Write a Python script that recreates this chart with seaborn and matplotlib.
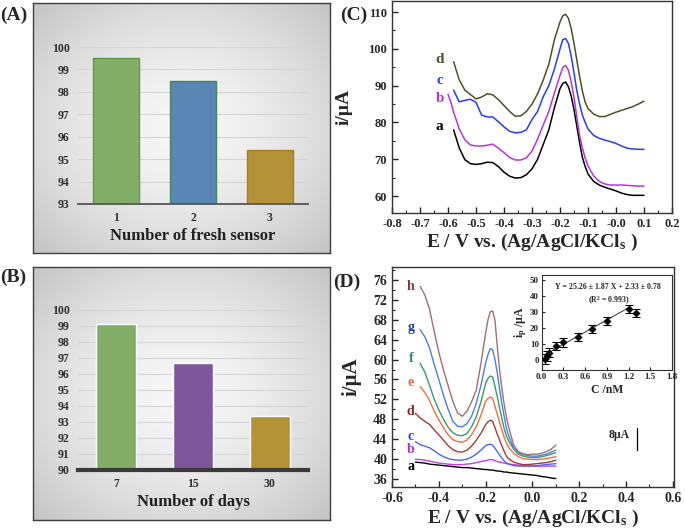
import numpy as np
import pandas as pd
import seaborn as sns
import matplotlib.pyplot as plt
from matplotlib.ticker import MultipleLocator

# ---- panel A : fresh sensors
sensor_labels = ['1', '2', '3']
sensor_values = [99.5, 98.5, 95.4]
sensor_colors = ['#7fba5c', '#4a86c4', '#c79b24']
sensor_edges = ['#5e9a40', '#3f8a58', '#a88012']

# ---- panel B : storage days
day_labels = ['7', '15', '30']
day_values = [99.15, 96.7, 93.4]
day_colors = ['#7fba5c', '#7e4ba6', '#c79b24']

# ---- panel C : DPV curves a-d
E_c = [-0.58, -0.56, -0.54, -0.52, -0.50, -0.48, -0.46, -0.44, -0.42, -0.40,
       -0.38, -0.36, -0.34, -0.32, -0.30, -0.28, -0.26, -0.24, -0.22, -0.20,
       -0.19, -0.18, -0.17, -0.16, -0.15, -0.14, -0.13, -0.12, -0.11, -0.10,
       -0.08, -0.06, -0.04, -0.02, 0.00, 0.02, 0.04, 0.06, 0.08, 0.10]
E_c_b = [-0.60, -0.59] + E_c
i_c_a = [78.0, 73.1, 69.9, 68.8, 68.6, 68.8, 69.2, 69.1, 68.0, 66.5,
         65.4, 64.9, 65.0, 65.8, 67.4, 70.0, 74.0, 78.0, 84.0, 89.2,
         90.6, 91.0, 89.7, 87.2, 83.5, 79.0, 74.5, 70.5, 68.0, 66.0,
         64.0, 63.0, 62.4, 61.9, 61.4, 60.8, 60.4, 60.2, 60.2, 60.2]
i_c_b = [87.7, 85.5,
         82.8, 78.3, 75.3, 73.9, 73.6, 73.6, 73.8, 74.1, 73.0, 71.8,
         70.5, 69.8, 69.8, 70.4, 72.2, 75.5, 79.3, 83.0, 88.0, 92.8,
         94.9, 95.5, 94.2, 91.0, 86.8, 81.5, 76.5, 73.0, 70.3, 68.2,
         65.5, 64.0, 63.3, 63.0, 63.0, 63.0, 62.9, 62.8, 62.7, 62.7]
i_c_c = [88.8, 85.6, 86.0, 86.3, 85.5, 82.0, 81.5, 81.5, 80.2, 78.8,
         77.6, 77.2, 77.3, 78.0, 80.8, 83.0, 87.0, 90.0, 94.5, 100.0,
         102.5, 102.8, 101.5, 98.0, 93.5, 88.7, 85.0, 82.0, 80.0, 78.2,
         76.5, 75.7, 75.2, 74.8, 74.3, 73.6, 73.0, 72.8, 72.7, 72.7]
i_c_d = [96.5, 91.6, 88.8, 87.6, 86.4, 86.9, 87.8, 87.5, 86.2, 84.6,
         83.0, 81.7, 81.8, 83.0, 85.0, 87.8, 91.5, 95.8, 102.5, 107.3,
         109.0, 109.4, 108.3, 105.5, 101.5, 97.0, 92.5, 88.5, 85.5, 83.8,
         82.3, 81.6, 81.6, 82.2, 82.8, 83.3, 83.8, 84.3, 85.0, 85.8]

# ---- panel D : DPV curves a-h
E_d = [-0.50, -0.48, -0.46, -0.44, -0.42, -0.40, -0.38, -0.36, -0.34, -0.32,
       -0.30, -0.28, -0.26, -0.24, -0.22, -0.20, -0.19, -0.18, -0.17, -0.16,
       -0.15, -0.14, -0.13, -0.12, -0.11, -0.10, -0.08, -0.06, -0.04, -0.02,
       0.00, 0.02, 0.04, 0.06, 0.08, 0.10]
E_d_short = E_d[1:]
i_d_a = [39.4, 39.3, 39.2, 39.0, 38.9, 38.8, 38.7, 38.6, 38.5, 38.4,
         38.3, 38.3, 38.2, 38.1, 38.0, 37.9, 37.9, 37.8, 37.8, 37.7,
         37.6, 37.6, 37.5, 37.4, 37.4, 37.3, 37.2, 37.1, 37.0, 36.9,
         36.8, 36.7, 36.5, 36.4, 36.2, 36.1]
i_d_b = [40.0, 39.9, 39.8, 39.6, 39.4, 39.2, 39.1, 39.0, 38.9, 38.9,
         38.9, 39.0, 39.1, 39.3, 39.5, 39.7, 39.8, 39.9, 39.9, 39.7,
         39.5, 39.4, 39.3, 39.2, 39.1, 39.0, 38.9, 38.8, 38.7, 38.6,
         38.6, 38.6, 38.6, 38.6, 38.6, 38.6]
i_d_c = [43.5, 42.9, 42.6, 42.3, 41.7, 41.0, 40.5, 40.1, 39.9, 39.8,
         39.8, 40.0, 40.4, 41.0, 41.8, 42.7, 42.9, 43.0, 42.8, 42.2,
         41.5, 40.8, 40.2, 39.6, 39.2, 39.0, 38.7, 38.6, 38.6, 38.6,
         38.6, 38.7, 38.8, 38.9, 39.0, 39.1]
i_d_d = [49.2, 48.3, 47.6, 47.0, 45.9, 44.9, 43.8, 42.7, 41.9, 41.5,
         41.4, 41.8, 42.6, 43.8, 45.2, 46.9, 47.5, 47.8, 47.6, 46.3,
         45.0, 43.8, 42.6, 41.5, 40.5, 40.0, 39.4, 39.1, 38.9, 38.9,
         39.0, 39.1, 39.2, 39.3, 39.5, 39.8]
i_d_e = [54.6, 53.4, 51.8, 49.7, 47.9, 46.3, 44.9, 43.9, 43.5,
         43.4, 43.8, 44.9, 46.5, 48.8, 51.6, 52.2, 52.5, 52.2, 50.6,
         49.0, 47.3, 45.8, 44.3, 43.1, 42.3, 41.2, 40.5, 40.1, 40.0,
         39.9, 39.9, 40.0, 40.1, 40.3, 40.5]
i_d_f = [59.3, 57.5, 54.9, 52.1, 49.9, 48.0, 46.4, 45.3, 44.8,
         44.7, 45.1, 46.5, 48.5, 51.5, 55.2, 56.2, 56.7, 56.5, 54.6,
         52.5, 50.2, 48.0, 46.0, 44.5, 43.5, 42.0, 41.0, 40.6, 40.4,
         40.3, 40.3, 40.5, 40.7, 41.0, 41.3]
i_d_g = [66.0, 64.6, 62.4, 59.1, 56.0, 52.8, 50.0, 47.6, 46.6,
         46.5, 47.1, 48.6, 51.2, 54.8, 59.3, 61.0, 62.2, 62.0, 60.0,
         57.3, 54.0, 51.0, 48.4, 46.0, 44.5, 42.2, 41.3, 40.9, 40.7,
         40.6, 40.6, 40.8, 41.0, 41.4, 41.8]
i_d_h = [74.7, 73.0, 70.2, 65.7, 61.5, 57.9, 54.7, 51.6, 49.3,
         48.6, 49.6, 51.5, 53.9, 59.2, 65.3, 68.0, 69.6, 69.8, 67.9,
         62.6, 57.8, 54.0, 50.8, 48.2, 46.2, 42.8, 41.5, 41.1, 40.9,
         41.0, 41.0, 41.2, 41.5, 42.0, 42.8]

# ---- inset : calibration
conc = [0.05, 0.07, 0.1, 0.2, 0.3, 0.5, 0.7, 0.9, 1.2, 1.3]
ip = [0.6, 2.7, 4.6, 9.0, 11.0, 14.6, 19.4, 24.4, 31.7, 29.6]
ip_err = [3.0, 3.0, 2.8, 2.5, 2.5, 2.5, 2.5, 2.5, 2.5, 2.5]
fit_slope = 25.26
fit_icpt = 2.33

sns.set_style('ticks')
plt.rcParams['font.family'] = ['Liberation Serif', 'DejaVu Serif']
plt.rcParams['font.weight'] = 'bold'
plt.rcParams['axes.labelweight'] = 'bold'
plt.rcParams['axes.unicode_minus'] = False
plt.rcParams['mathtext.fontset'] = 'custom'
plt.rcParams['mathtext.rm'] = 'Liberation Serif:bold'
plt.rcParams['mathtext.it'] = 'Liberation Serif:bold'
plt.rcParams['mathtext.bf'] = 'Liberation Serif:bold'

W, H = 685, 529
fig = plt.figure(figsize=(6.85, 5.29), dpi=100)


def px_rect(l, t, r, b):
    return [l / W, 1 - b / H, (r - l) / W, (b - t) / H]


def gray_box(l, t, r, b):
    bg = fig.add_axes(px_rect(l, t, r, b), zorder=0)
    yy, xx = np.mgrid[-1:1:200j, -1:1:200j]
    rr = np.sqrt(xx ** 2 + yy ** 2) / np.sqrt(2)
    bg.imshow(0.965 - 0.2 * rr ** 1.6, cmap='gray', vmin=0, vmax=1,
              aspect='auto', extent=[0, 1, 0, 1])
    bg.set_xticks([])
    bg.set_yticks([])
    for s in bg.spines.values():
        s.set_color('#404040')
        s.set_linewidth(1)


def bar_panel(rect, labels, values, colors, ylo, xlabel, axis_lw, axis_col, width):
    ax = fig.add_axes(rect, zorder=1)
    ax.set_facecolor('none')
    sns.barplot(x=labels, y=values, hue=labels, palette=colors, legend=False,
                width=width, ax=ax, zorder=2)
    ax.set_ylim(ylo, 100)
    ax.set_xlim(-0.5, 2.5)
    ax.set_yticks(range(ylo, 101))
    ax.yaxis.grid(True, color='#d6d6d6', lw=0.8)
    ax.set_axisbelow(True)
    for s in ['top', 'right', 'left']:
        ax.spines[s].set_visible(False)
    ax.spines['bottom'].set_color(axis_col)
    ax.spines['bottom'].set_linewidth(axis_lw)
    ax.spines['bottom'].set_zorder(3)
    ax.tick_params(length=0, labelsize=8.5, pad=6, colors='#303030')
    ax.set_xlabel(xlabel, fontsize=12, color='#202020', labelpad=3)
    ax.set_ylabel('')
    return ax


# A
gray_box(33, 3, 330, 253)
axA = bar_panel(px_rect(78, 47, 308, 204), sensor_labels, sensor_values,
                sensor_colors, 93, 'Number of fresh sensor', 1.3, '#555555', 0.6)
for p, ec in zip(axA.patches, sensor_edges):
    p.set_edgecolor(ec)
    p.set_linewidth(1)

# B
gray_box(33, 267, 330, 520)
axB = bar_panel(px_rect(78, 310, 308, 470), day_labels, day_values,
                day_colors, 90, 'Number of days', 3.0, '#3a3a3a', 0.52)

fig.text(0.0, 1 - 15 / H, '(A)', fontsize=14, va='center', ha='left')
fig.text(0.0, 1 - 277 / H, '(B)', fontsize=14, va='center', ha='left')
fig.text(340 / W, 1 - 15 / H, '(C)', fontsize=14, va='center', ha='left')
fig.text(333 / W, 1 - 282 / H, '(D)', fontsize=14, va='center', ha='left')

# C
axC = fig.add_axes(px_rect(392, 1, 672, 213))
c_curves = [(E_c, i_c_a, 'black', 'a'), (E_c_b, i_c_b, '#b535e0', 'b'),
            (E_c, i_c_c, '#2a3cf2', 'c'), (E_c, i_c_d, '#4f4f2a', 'd')]
c_lab_y = [78.8, 86.6, 91.5, 97.0]
for (xs, ys, col, lab), ly in zip(c_curves, c_lab_y):
    sns.lineplot(x=xs, y=ys, color=col, lw=1.1, ax=axC)
    axC.text(-0.63, ly, lab, color=col, fontsize=11, ha='center', va='center')
axC.set_xlim(-0.8, 0.2)
axC.set_ylim(55.4, 113)
axC.xaxis.set_minor_locator(MultipleLocator(0.05))
axC.yaxis.set_minor_locator(MultipleLocator(5))
axC.set_xticks(np.round(np.arange(-0.8, 0.21, 0.1), 1))
axC.set_xticklabels(['%.1f' % v for v in np.arange(-0.8, 0.21, 0.1)])
axC.set_yticks([60, 70, 80, 90, 100, 110])
axC.tick_params(which='major', direction='in', length=4, width=1, labelsize=9)
axC.tick_params(which='minor', direction='in', length=2.5, width=0.8)
axC.set_xlabel('E / V vs. (Ag/AgCl/KCl$_s$ )', fontsize=14)
axC.set_ylabel('i/µA', fontsize=14)
axC.xaxis.set_label_coords(0.5, -0.09)
axC.yaxis.set_label_coords(-0.14, 0.5)
for s in axC.spines.values():
    s.set_linewidth(1)
    s.set_color('#333333')

# D
axD = fig.add_axes(px_rect(392, 267, 674, 487))
d_curves = [(E_d, i_d_a, 'black', 'black', 'a', 38.6),
            (E_d, i_d_b, '#c040e0', '#b030d0', 'b', 41.9),
            (E_d, i_d_c, '#4a66f0', '#2a3af0', 'c', 44.6),
            (E_d, i_d_d, '#a03a3a', '#8b2525', 'd', 49.5),
            (E_d_short, i_d_e, '#f07040', '#f06030', 'e', 55.3),
            (E_d_short, i_d_f, '#3a9a6a', '#2e8b57', 'f', 60.3),
            (E_d_short, i_d_g, '#4a7fe0', '#2040a8', 'g', 66.4),
            (E_d_short, i_d_h, '#a07070', '#7b3f3f', 'h', 74.6)]
for xs, ys, col, tcol, lab, ly in d_curves:
    sns.lineplot(x=xs, y=ys, color=col, lw=1.0, ax=axD)
    axD.text(-0.52, ly, lab, color=tcol, fontsize=10, ha='center', va='center')
axD.set_xlim(-0.6, 0.605)
axD.set_ylim(34.4, 78.6)
axD.set_xticks([-0.6, -0.4, -0.2, 0.0, 0.2, 0.4, 0.6])
axD.set_xticklabels(['-0.6', '-0.4', '-0.2', '0.0', '0.2', '0.4', '0.6'])
axD.xaxis.set_minor_locator(MultipleLocator(0.1))
axD.set_yticks(range(36, 77, 4))
axD.yaxis.set_minor_locator(MultipleLocator(2))
axD.tick_params(which='major', direction='in', length=4, width=1, labelsize=10)
axD.tick_params(which='minor', direction='in', length=2.5, width=0.8)
axD.set_xlabel('E / V vs. (Ag/AgCl/KCl$_s$ )', fontsize=14)
axD.set_ylabel('i/µA', fontsize=15)
axD.xaxis.set_label_coords(0.5, -0.095)
axD.yaxis.set_label_coords(-0.107, 0.5)
for s in axD.spines.values():
    s.set_linewidth(1)
    s.set_color('#333333')
axD.text(0.37, 44.8, '8µA', fontsize=8.5, ha='center', va='center')
axD.plot([0.447, 0.447], [41.8, 46.3], color='black', lw=0.9)

# inset
axI = fig.add_axes(px_rect(541.7, 275, 672, 370.3))
axI.errorbar(conc, ip, yerr=ip_err, fmt='none', ecolor='black', elinewidth=0.8,
             capsize=3, capthick=0.8)
sns.lineplot(x=[conc[0], conc[-2]],
             y=[fit_slope * conc[0] + fit_icpt, fit_slope * conc[-2] + fit_icpt],
             color='#333333', lw=0.7, ax=axI)
sns.scatterplot(x=conc, y=ip, marker='D', s=14, color='black', edgecolor='black',
                ax=axI, zorder=3)
axI.set_xlim(0, 1.8)
axI.set_ylim(-6.3, 53)
axI.set_xticks([0.0, 0.3, 0.6, 0.9, 1.2, 1.5, 1.8])
axI.set_xticklabels(['0.0', '0.3', '0.6', '0.9', '1.2', '1.5', '1.8'])
axI.set_yticks(range(0, 51, 10))
axI.tick_params(direction='in', length=2.5, width=0.8, labelsize=6.5, pad=2)
axI.set_xlabel('C /nM', fontsize=8.5, labelpad=2)
axI.set_ylabel('i$_p$ /µA', fontsize=8.5, labelpad=1)
for s in axI.spines.values():
    s.set_linewidth(0.8)
    s.set_color('#333333')
axI.text(0.91, 45.8, 'Y = 25.26 ± 1.87 X + 2.33 ± 0.78', fontsize=5.7,
         ha='center', va='center')
axI.text(0.93, 37, '(R$^2$ = 0.993)', fontsize=5.7, ha='center', va='center')

fig.savefig('out.png', dpi=100)
